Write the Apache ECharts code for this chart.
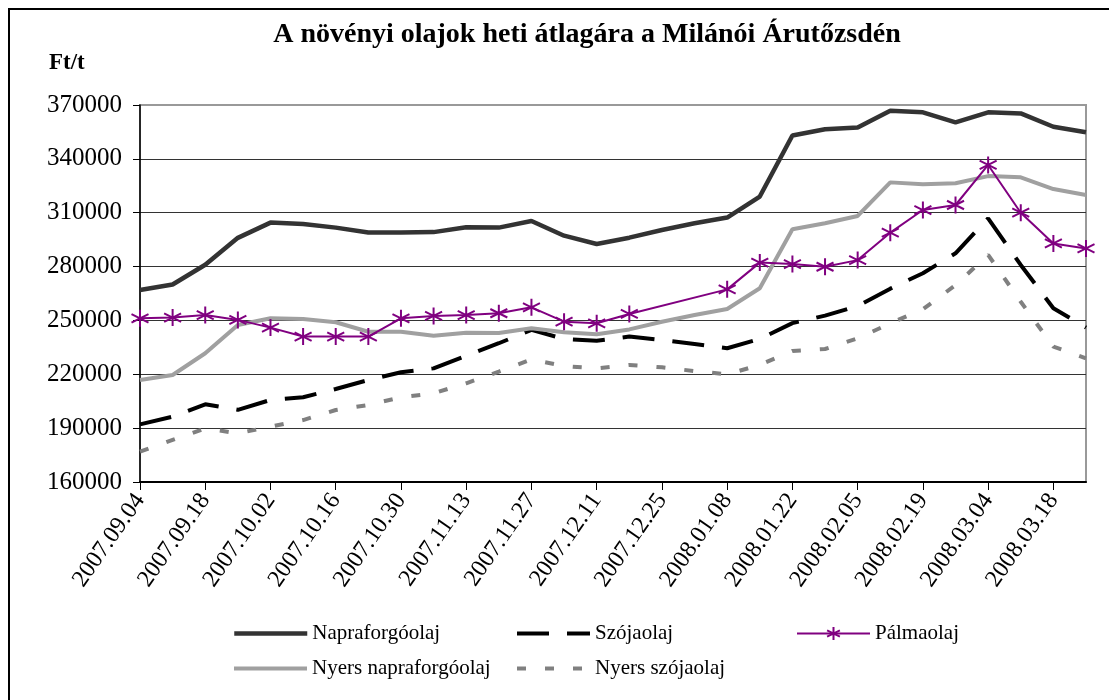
<!DOCTYPE html>
<html>
<head>
<meta charset="utf-8">
<script src="https://cdn.jsdelivr.net/npm/echarts@6/dist/echarts.min.js"></script>
<style>
  html, body { margin: 0; padding: 0; background: #fff; }
  #main { width: 1109px; height: 700px; }
</style>
</head>
<body>
<div id="main"></div>
<script>
var weeks = [
  '2007.09.04', '2007.09.11', '2007.09.18', '2007.09.25', '2007.10.02', '2007.10.09',
  '2007.10.16', '2007.10.23', '2007.10.30', '2007.11.06', '2007.11.13', '2007.11.20',
  '2007.11.27', '2007.12.04', '2007.12.11', '2007.12.18', '2007.12.25', '2008.01.01',
  '2008.01.08', '2008.01.15', '2008.01.22', '2008.01.29', '2008.02.05', '2008.02.12',
  '2008.02.19', '2008.02.26', '2008.03.04', '2008.03.11', '2008.03.18', '2008.03.25'
];

var napraforgo = [
  267000, 270000, 281000, 296000, 304500, 303700, 301700, 299000, 299000, 299200,
  301900, 301700, 305400, 297200, 292600, 296100, 300400, 304100, 307300, 319000,
  353000, 356500, 357400, 366800, 365900, 360300, 365900, 365300, 357900, 354800
];
var szoja = [
  192100, 196400, 203300, 200200, 205700, 207200, 211800, 216800, 221100, 223300,
  230300, 237300, 244700, 239700, 238700, 241000, 239100, 236900, 234500, 239700,
  248500, 252700, 258000, 267700, 276300, 287400, 306900, 280900, 256800, 246000
];
var palma = [
  251200, 251600, 253000, 250300, 246000, 241000, 241000, 241000, 251200, 252500,
  253000, 254000, 257300, 249300, 248400, 253600, null, null, 267300, 282200,
  281400, 279900, 283600, 298900, 311500, 314300, 336600, 310000, 292900, 290100
];
var nyersNapraforgo = [
  216800, 219600, 231700, 247500, 251200, 250800, 249000, 243700, 243700, 241500,
  243200, 243000, 245600, 243400, 242300, 245000, 249300, 253000, 256400, 267900,
  300800, 304100, 308200, 326900, 325800, 326400, 330400, 329700, 323200, 319900
];
var nyersSzoja = [
  176900, 183400, 189900, 187100, 190800, 194500, 200100, 202900, 207200, 209400,
  215000, 221500, 228300, 224600, 223300, 225200, 223900, 221800, 220000, 225200,
  233000, 234100, 240000, 248400, 256200, 269700, 286500, 260400, 235400, 228900
];

var serif = '"Liberation Serif", "DejaVu Serif", serif';
var star = 'path://M7,0L7,14M0,3.5L14,10.5M0,10.5L14,3.5';

var chart = echarts.init(document.getElementById('main'), null, { renderer: 'canvas' });

// one legend box per entry so they sit in Excel's fixed columns
function legendAt(name, left, top, lineWidth, withSymbol) {
  return {
    data: [name],
    left: left,
    top: top,
    itemWidth: 73,
    itemHeight: 16,
    itemGap: 4,
    itemStyle: withSymbol ? {} : { opacity: 0 },
    lineStyle: { width: lineWidth },
    textStyle: { fontFamily: serif, fontSize: 21, color: '#000' },
    selectedMode: false
  };
}

var option = {
  backgroundColor: '#fff',
  animation: false,
  title: {
    text: 'A növényi olajok heti átlagára a Milánói Árutőzsdén',
    left: 582,
    textAlign: 'center',
    top: 16,
    textStyle: { fontFamily: serif, fontSize: 28, fontWeight: 'bold', color: '#000' }
  },
  graphic: [
    {
      type: 'rect',
      shape: { x: 9, y: 9, width: 1130, height: 730 },
      style: { fill: 'none', stroke: '#000', lineWidth: 2 },
      silent: true
    },
    {
      type: 'text',
      left: 49,
      top: 52,
      style: { text: 'Ft/t', font: 'bold 23px ' + serif, fill: '#000' }
    }
  ],
  legend: [
    legendAt('Napraforgóolaj', 227, 618, 4.5, false),
    legendAt('Szójaolaj', 510, 618, 4, false),
    legendAt('Pálmaolaj', 791, 618, 2, true),
    legendAt('Nyers napraforgóolaj', 227, 653, 4, false),
    legendAt('Nyers szójaolaj', 510, 653, 4, false)
  ],
  grid: {
    left: 140, right: 23, top: 105, bottom: 218,
    show: true, borderColor: '#999', borderWidth: 2
  },
  xAxis: {
    type: 'category',
    data: weeks,
    boundaryGap: false,
    axisLine: { lineStyle: { color: '#000', width: 2 } },
    axisTick: { interval: 1, length: 8, lineStyle: { color: '#000' } },
    axisLabel: {
      interval: 1, rotate: 55, margin: 14,
      fontFamily: serif, fontSize: 24, color: '#000'
    },
    splitLine: { show: false }
  },
  yAxis: {
    type: 'value',
    min: 160000, max: 370000, interval: 30000,
    axisLine: { show: true, lineStyle: { color: '#000', width: 1.5 } },
    axisTick: { show: true, length: 7, lineStyle: { color: '#000' } },
    axisLabel: {
      fontFamily: serif, fontSize: 25, color: '#000', margin: 18,
      formatter: function (v) { return String(v); }
    },
    splitLine: {
      lineStyle: {
        color: ['#333', '#333', '#333', '#333', '#333', '#333', '#333', '#999'],
        width: 1
      }
    }
  },
  series: [
    {
      name: 'Napraforgóolaj', type: 'line', data: napraforgo,
      symbol: 'none', z: 5,
      lineStyle: { color: '#333', width: 4.5 },
      itemStyle: { color: '#333' }
    },
    {
      name: 'Szójaolaj', type: 'line', data: szoja,
      symbol: 'none', z: 3,
      lineStyle: { color: '#000', width: 4, type: [32, 18] },
      itemStyle: { color: '#000' }
    },
    {
      name: 'Pálmaolaj', type: 'line', data: palma,
      connectNulls: true,
      symbol: star, symbolSize: 17, showSymbol: true, z: 6,
      lineStyle: { color: '#800080', width: 2 },
      itemStyle: { color: '#800080', borderColor: '#800080', borderWidth: 2 }
    },
    {
      name: 'Nyers napraforgóolaj', type: 'line', data: nyersNapraforgo,
      symbol: 'none', z: 4,
      lineStyle: { color: '#A0A0A0', width: 4 },
      itemStyle: { color: '#A0A0A0' }
    },
    {
      name: 'Nyers szójaolaj', type: 'line', data: nyersSzoja,
      symbol: 'none', z: 2,
      lineStyle: { color: '#808080', width: 4, type: [9, 19] },
      itemStyle: { color: '#808080' }
    }
  ]
};

chart.setOption(option);
</script>
</body>
</html>
